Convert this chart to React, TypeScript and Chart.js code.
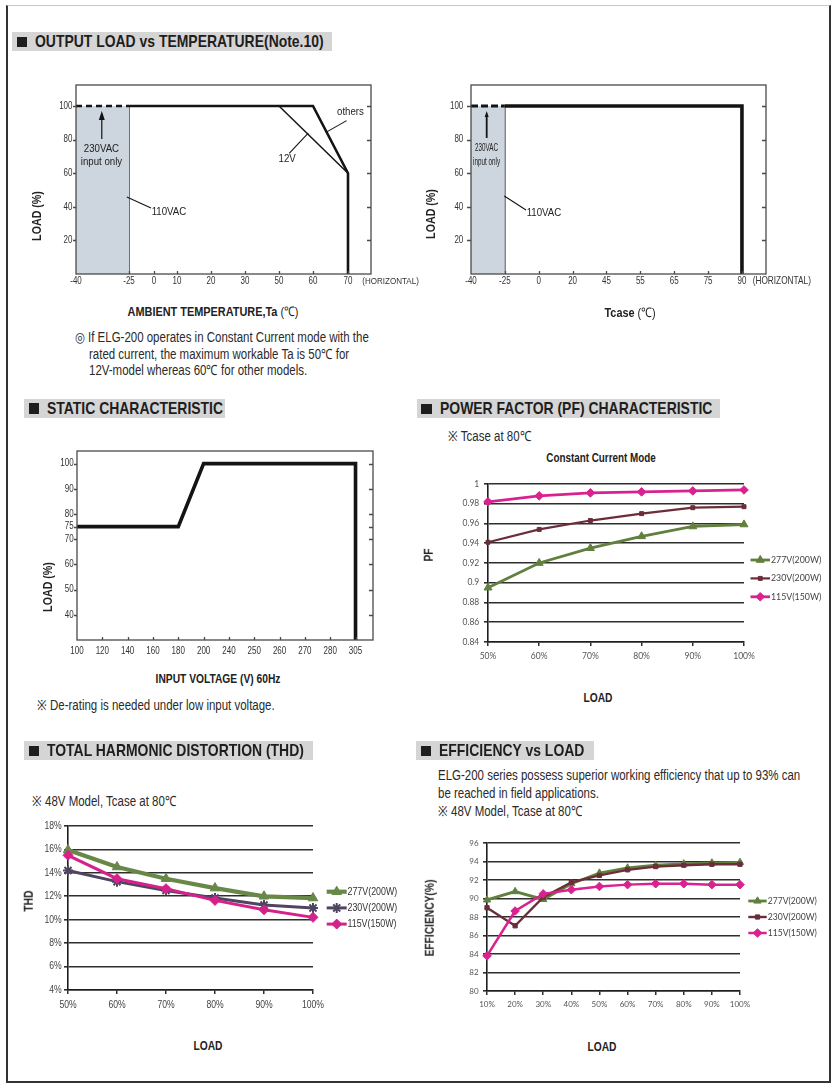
import React, { useEffect, useRef } from 'react';
import { Chart, registerables, LinearScale } from 'chart.js';
import { drawPoint } from 'chart.js/helpers';

Chart.register(...registerables);

const SANS = "'Liberation Sans', Arial, Helvetica, sans-serif";
const SX = 0.82; // horizontal condensing to imitate Helvetica Narrow
const XLS = "Lato, 'Open Sans', 'Liberation Sans', sans-serif";

/* ---------------- data: OUTPUT LOAD vs AMBIENT TEMPERATURE ---------------- */
const TA_TICKS = [-40, -25, 0, 10, 20, 30, 50, 60, 70];
const TA_AXIS_END = 76.6;
const LOAD_TICKS = [20, 40, 60, 80, 100];
const LOAD_MAX = 112.5;
const TA_230VAC_ONLY = [{ x: -40, y: 100 }, { x: -25, y: 100 }];
const TA_110VAC_EDGE = [{ x: -25, y: 0 }, { x: -25, y: 100 }];
const TA_OTHERS = [{ x: -25, y: 100 }, { x: 60, y: 100 }, { x: 70, y: 60 }, { x: 70, y: 0 }];
const TA_12V = [{ x: 50, y: 100 }, { x: 70, y: 60 }];
const TA_LABELS = [
  { text: '230VAC', x: -32.8, y: 74.8 },
  { text: 'input only', x: -32.8, y: 66.8 },
  { text: '110VAC', x: 6.5, y: 36.9 },
  { text: '12V', x: 52.4, y: 68.5 },
  { text: 'others', x: 70.7, y: 96.4 },
];
const TA_LEADERS = [
  [{ x: -25.6, y: 45.8 }, { x: -3, y: 39.3 }],
  [{ x: 53, y: 71.8 }, { x: 58.6, y: 83.8 }],
  [{ x: 69.6, y: 91.3 }, { x: 63.7, y: 84.3 }],
];
const TA_ARROW = [{ x: -32.7, y: 80.4 }, { x: -32.7, y: 97 }];

/* ---------------- data: OUTPUT LOAD vs Tcase ---------------- */
const TC_TICKS = [-40, -25, 0, 20, 45, 55, 65, 75, 90];
const TC_AXIS_END = 100;
const TC_230VAC_ONLY = [{ x: -40, y: 100 }, { x: -25, y: 100 }];
const TC_110VAC_EDGE = [{ x: -25, y: 0 }, { x: -25, y: 100 }];
const TC_LOAD = [{ x: -25, y: 100 }, { x: 90, y: 100 }, { x: 90, y: 0 }];
const TC_SMALL_LABELS = [
  { text: '230VAC', x: -33.1, y: 74.8 },
  { text: 'input only', x: -33.1, y: 66.8 },
];
const TC_LABELS = [{ text: '110VAC', x: 3.1, y: 36.7 }];
const TC_LEADERS = [[{ x: -25.25, y: 46.4 }, { x: -9.4, y: 38.1 }]];
const TC_ARROW = [{ x: -33.05, y: 81 }, { x: -33.05, y: 97 }];

/* ---------------- data: STATIC CHARACTERISTIC ---------------- */
const VIN_TICKS = [100, 120, 140, 160, 180, 200, 240, 250, 260, 270, 280, 305];
const VIN_AXIS_END = 320;
const STATIC_TICKS = [40, 50, 60, 70, 75, 80, 90, 100];
const STATIC_MIN = 30;
const STATIC_MAX = 105;
const STATIC_CURVE = [{ x: 100, y: 75 }, { x: 180, y: 75 }, { x: 200, y: 100 }, { x: 305, y: 100 }, { x: 305, y: 30 }];

/* ---------------- data: POWER FACTOR ---------------- */
const PF_LOADS = ['50%', '60%', '70%', '80%', '90%', '100%'];
const PF_277V = [0.895, 0.92, 0.935, 0.947, 0.957, 0.959];
const PF_230V = [0.941, 0.954, 0.963, 0.97, 0.976, 0.977];
const PF_115V = [0.982, 0.988, 0.991, 0.992, 0.993, 0.994];

/* ---------------- data: THD ---------------- */
const THD_LOADS = ['50%', '60%', '70%', '80%', '90%', '100%'];
const THD_277V = [15.95, 14.5, 13.5, 12.7, 12.0, 11.85];
const THD_230V = [14.2, 13.25, 12.5, 11.85, 11.25, 11.0];
const THD_115V = [15.5, 13.5, 12.65, 11.65, 10.85, 10.2];

/* ---------------- data: EFFICIENCY ---------------- */
const EFF_LOADS = ['10%', '20%', '30%', '40%', '50%', '60%', '70%', '80%', '90%', '100%'];
const EFF_277V = [89.85, 90.75, 89.9, 91.6, 92.75, 93.3, 93.6, 93.75, 93.85, 93.9];
const EFF_230V = [89.0, 87.05, 90.15, 91.75, 92.5, 93.1, 93.45, 93.6, 93.7, 93.7];
const EFF_115V = [83.8, 88.65, 90.5, 90.95, 91.3, 91.5, 91.6, 91.6, 91.5, 91.5];

const SERIES_NAMES = ['277V(200W)', '230V(200W)', '115V(150W)'];

/* ---------------- axis layout (relative tick spacing of the drawn axes) ---------------- */
const TA_SPANS = [53, 25, 23, 34, 34, 34, 34, 35, 23];
const TC_SPANS = [1, 1, 1, 1, 1, 1, 1, 1, 0.71];
const VIN_SPANS = [1, 1, 1, 1, 1, 1, 1, 1, 1, 1, 1, 0.69];

/* ---------------- styles ---------------- */
const INK = '#141414';
const SHADE = '#cdd5de';
const FRAME = '#4a4a4a';
const G_GREEN = '#61803e';
const G_MAROON = '#6b2d3a';
const G_PINK = '#d9228f';
const T_GREEN = '#688848';
const T_PURPLE = '#4f4560';
const T_PINK = '#d5218b';
const GRID = '#2e2e2e';

/* ---------------- piecewise scale for the hand-drawn derating axes ---------------- */
function makePiecewise(scaleId: string, stops: number[], weights: number[]) {
  const cum: number[] = [0];
  weights.forEach((w) => cum.push(cum[cum.length - 1] + w));
  const total = cum[cum.length - 1];
  class Piecewise extends LinearScale {
    static id = scaleId;
    getPixelForValue(value: number) {
      let i = 0;
      while (i < weights.length - 1 && value > stops[i + 1]) i++;
      const f = (cum[i] + ((value - stops[i]) / (stops[i + 1] - stops[i])) * weights[i]) / total;
      return this.getPixelForDecimal(f);
    }
    getValueForPixel(pixel: number) {
      const f = this.getDecimalForPixel(pixel) * total;
      let i = 0;
      while (i < weights.length - 1 && f > cum[i + 1]) i++;
      return stops[i] + ((f - cum[i]) / weights[i]) * (stops[i + 1] - stops[i]);
    }
  }
  return Piecewise;
}

Chart.register(
  makePiecewise('pwTa', [...TA_TICKS, TA_AXIS_END], TA_SPANS),
  makePiecewise('pwTc', [...TC_TICKS, TC_AXIS_END], TC_SPANS),
  makePiecewise('pwVin', [...VIN_TICKS, VIN_AXIS_END], VIN_SPANS)
);

type Rect = { x: number; y: number; w: number; h: number };
type Box = { x1: number; y1: number; x2: number; y2: number };

function layoutFor(rect: Rect, box: Box) {
  return {
    padding: { top: box.y1 - rect.y, right: rect.x + rect.w - box.x2, left: 0, bottom: 0 },
    yW: box.x1 - rect.x,
    xH: rect.y + rect.h - box.y2,
  };
}

function narrowText(ctx: any, text: string, x: number, y: number, align: string, sx: number) {
  ctx.save();
  ctx.translate(x, y);
  ctx.scale(sx, 1);
  ctx.textAlign = align;
  ctx.textBaseline = 'middle';
  ctx.fillText(text, 0, 0);
  ctx.restore();
}

/* ---------------- plugins ---------------- */
function framePlugin(o: any) {
  return {
    id: 'frame',
    afterDatasetsDraw(chart: any) {
      const { ctx, chartArea: a, scales } = chart;
      ctx.save();
      ctx.strokeStyle = FRAME;
      ctx.lineWidth = 1.3;
      ctx.strokeRect(a.left, a.top, a.right - a.left, a.bottom - a.top);
      ctx.beginPath();
      scales.y.ticks.forEach((t: any) => {
        const py = Math.round(scales.y.getPixelForValue(t.value)) + 0.5;
        ctx.moveTo(a.left - o.leftOut, py);
        ctx.lineTo(a.left, py);
        ctx.moveTo(a.right - o.rightIn, py);
        ctx.lineTo(a.right, py);
      });
      scales.x.ticks.forEach((t: any, i: number) => {
        if (i === 0) return;
        const px = Math.round(scales.x.getPixelForValue(t.value)) + 0.5;
        ctx.moveTo(px, a.bottom);
        ctx.lineTo(px, a.bottom - o.bottomIn);
      });
      ctx.stroke();
      ctx.restore();
    },
  };
}

// tick labels drawn in a condensed face, positioned through the chart's scales
function tickLabelPlugin(o: any) {
  return {
    id: 'tickLabels',
    afterDraw(chart: any) {
      const { ctx, chartArea: a, scales } = chart;
      ctx.save();
      ctx.fillStyle = o.color;
      ctx.font = o.font;
      scales.x.ticks.forEach((t: any, i: number) => {
        narrowText(ctx, o.xFmt(t.value, chart), scales.x.getPixelForTick(i), a.bottom + o.xDy, 'center', o.sx);
      });
      scales.y.ticks.forEach((t: any, i: number) => {
        narrowText(ctx, o.yFmt(t.value), a.left - o.yDx, scales.y.getPixelForTick(i), 'right', o.sx);
      });
      ctx.restore();
    },
  };
}

function notesPlugin(spec: any) {
  return {
    id: 'notes',
    afterDatasetsDraw(chart: any) {
      const { ctx, scales, chartArea: a } = chart;
      const X = (p: any) => scales.x.getPixelForValue(p.x);
      const Y = (p: any) => scales.y.getPixelForValue(p.y);
      ctx.save();
      ctx.strokeStyle = INK;
      ctx.fillStyle = INK;
      ctx.lineWidth = 1.1;
      spec.leaders.forEach(([p, q]: any) => {
        ctx.beginPath();
        ctx.moveTo(X(p), Y(p));
        ctx.lineTo(X(q), Y(q));
        ctx.stroke();
      });
      if (spec.arrow) {
        const [from, to] = spec.arrow;
        const x0 = X(from);
        const y0 = Y(from);
        const y1 = Y(to);
        ctx.lineWidth = spec.arrowWidth;
        ctx.beginPath();
        ctx.moveTo(x0, y0);
        ctx.lineTo(x0, y1 + spec.headLen * 0.7);
        ctx.stroke();
        ctx.beginPath();
        ctx.moveTo(x0, y1);
        ctx.lineTo(x0 - spec.headW / 2, y1 + spec.headLen);
        ctx.lineTo(x0 + spec.headW / 2, y1 + spec.headLen);
        ctx.closePath();
        ctx.fill();
      }
      ctx.fillStyle = '#222';
      spec.groups.forEach((g: any) => {
        ctx.font = g.font;
        g.labels.forEach((l: any) => narrowText(ctx, l.text, X(l), Y(l), 'center', g.sx));
      });
      if (spec.tail) {
        const t = spec.tail;
        ctx.font = t.font;
        ctx.fillStyle = '#333';
        narrowText(ctx, t.text, scales.x.getPixelForValue(t.at) + t.dx, a.bottom + t.dy, 'left', SX);
      }
      ctx.restore();
    },
  };
}

function legendPlugin(o: any) {
  return {
    id: 'sideLegend',
    afterDraw(chart: any) {
      const ctx = chart.ctx;
      chart.data.datasets.forEach((ds: any, i: number) => {
        const y = o.y + i * o.dy;
        ctx.save();
        ctx.strokeStyle = ds.borderColor;
        ctx.lineWidth = ds.borderWidth;
        ctx.beginPath();
        ctx.moveTo(o.x, y);
        ctx.lineTo(o.x + o.len, y);
        ctx.stroke();
        ctx.fillStyle = ds.pointBackgroundColor;
        ctx.strokeStyle = ds.pointBorderColor;
        ctx.lineWidth = ds.pointBorderWidth;
        drawPoint(ctx, { pointStyle: ds.pointStyle, radius: ds.pointRadius, borderWidth: ds.pointBorderWidth, rotation: 0 } as any, o.x + o.len / 2, y);
        ctx.fillStyle = o.color;
        ctx.font = o.font;
        narrowText(ctx, ds.label, o.x + o.len + o.gap, y, 'left', o.sx);
        ctx.restore();
      });
    },
  };
}

/* ---------------- chart builders ---------------- */
function buildDerate(canvas: HTMLCanvasElement, rect: Rect, box: Box, s: any) {
  const L = layoutFor(rect, box);
  return new Chart(canvas, {
    type: 'line',
    data: { datasets: s.datasets },
    options: {
      responsive: false,
      maintainAspectRatio: false,
      animation: false,
      layout: { padding: L.padding },
      elements: { point: { radius: 0 }, line: { tension: 0 } },
      plugins: { legend: { display: false }, tooltip: { enabled: false } },
      scales: {
        x: {
          type: s.xType,
          min: s.xTicks[0],
          max: s.xEnd,
          afterBuildTicks: (sc: any) => {
            sc.ticks = s.xTicks.map((v: number) => ({ value: v }));
          },
          afterFit: (sc: any) => {
            sc.height = L.xH;
          },
          grid: { display: false },
          border: { display: false },
          ticks: { display: false },
        },
        y: {
          type: 'linear',
          min: s.yMin,
          max: s.yMax,
          afterBuildTicks: (sc: any) => {
            sc.ticks = s.yTicks.map((v: number) => ({ value: v }));
          },
          afterFit: (sc: any) => {
            sc.width = L.yW;
          },
          grid: { display: false },
          border: { display: false },
          ticks: { display: false },
        },
      },
    } as any,
    plugins: [
      framePlugin(s.frame),
      tickLabelPlugin({
        font: `10px ${SANS}`,
        sx: 0.8,
        color: '#333',
        xDy: s.xDy,
        yDx: s.yDx,
        xFmt: (v: number) => String(v),
        yFmt: (v: number) => String(v),
      }),
      ...(s.notes ? [notesPlugin(s.notes)] : []),
    ],
  });
}

function series(label: string, data: number[], color: string, style: string, radius: number, width: number, order: number, pbw = 1) {
  return {
    label,
    data,
    borderColor: color,
    backgroundColor: color,
    borderWidth: width,
    pointStyle: style,
    pointRadius: radius,
    pointBackgroundColor: color,
    pointBorderColor: color,
    pointBorderWidth: pbw,
    tension: 0,
    clip: false,
    order,
  };
}

function buildXls(canvas: HTMLCanvasElement, rect: Rect, box: Box, s: any) {
  const L = layoutFor(rect, box);
  const plugins: any[] = [legendPlugin(s.legend)];
  if (s.narrowTicks) plugins.push(tickLabelPlugin(s.narrowTicks));
  return new Chart(canvas, {
    type: 'line',
    data: { labels: s.labels, datasets: s.datasets },
    options: {
      responsive: false,
      maintainAspectRatio: false,
      animation: false,
      layout: { padding: L.padding },
      plugins: { legend: { display: false }, tooltip: { enabled: false } },
      scales: {
        x: {
          type: 'category',
          offset: false,
          afterFit: (sc: any) => {
            sc.height = L.xH;
          },
          grid: { display: true, drawOnChartArea: false, drawTicks: true, tickLength: 4, color: GRID, lineWidth: 1.5 },
          border: { display: true, color: '#1e1e1e', width: 1.6 },
          ticks: { display: !s.narrowTicks, autoSkip: false, maxRotation: 0, padding: s.xPad, font: s.tickFont, color: s.tickColor },
        },
        y: {
          type: 'linear',
          min: s.yMin,
          max: s.yMax,
          afterFit: (sc: any) => {
            sc.width = L.yW;
          },
          grid: { color: GRID, lineWidth: 1.6, tickLength: 4, drawTicks: true },
          border: { display: true, color: '#1e1e1e', width: 1.6 },
          ticks: { display: !s.narrowTicks, stepSize: s.step, padding: s.yPad, font: s.tickFont, color: s.tickColor, callback: s.yFmt },
        },
      },
    } as any,
    plugins,
  });
}

/* ---------------- React helpers ---------------- */
function ChartCanvas({ rect, build }: { rect: Rect; build: (c: HTMLCanvasElement) => Chart }) {
  const ref = useRef<HTMLCanvasElement>(null);
  useEffect(() => {
    const chart = build(ref.current!);
    return () => chart.destroy();
  }, []);
  return (
    <canvas
      ref={ref}
      width={rect.w}
      height={rect.h}
      style={{ position: 'absolute', left: rect.x, top: rect.y, width: rect.w, height: rect.h }}
    />
  );
}

function Txt({ x, y, children, size = 13, bold = false, align = 'left', rotate = false, color = '#222', sx = SX }: any) {
  const transform = rotate
    ? 'translate(-50%,-50%) rotate(-90deg)'
    : align === 'center'
    ? 'translate(-50%,-50%)'
    : 'translateY(-50%)';
  return (
    <div
      style={{
        position: 'absolute',
        left: x,
        top: y,
        transform,
        fontFamily: SANS,
        fontSize: size,
        fontWeight: bold ? 700 : 400,
        color,
        whiteSpace: 'nowrap',
        lineHeight: 1,
      }}
    >
      <span
        style={{
          display: 'inline-block',
          transform: `scaleX(${sx})`,
          transformOrigin: align === 'left' && !rotate ? 'left center' : 'center center',
        }}
      >
        {children}
      </span>
    </div>
  );
}

function Header({ x, y, w, text }: any) {
  return (
    <div style={{ position: 'absolute', left: x, top: y, width: w, height: 19, background: '#d5d5d5' }}>
      <div style={{ position: 'absolute', left: 4.5, top: 4.5, width: 10.5, height: 10.5, background: '#1e1e1e' }} />
      <div
        style={{
          position: 'absolute',
          left: 23,
          top: 0,
          height: 19,
          lineHeight: '19px',
          fontFamily: SANS,
          fontWeight: 700,
          fontSize: 17,
          color: '#1e1e1e',
          whiteSpace: 'nowrap',
          transform: `scaleX(${SX})`,
          transformOrigin: 'left center',
        }}
      >
        {text}
      </div>
    </div>
  );
}

/* ---------------- layout rects ---------------- */
const R_TA: Rect = { x: 20, y: 70, w: 405, h: 226 };
const B_TA: Box = { x1: 76, y1: 85, x2: 371, y2: 274 };
const R_TC: Rect = { x: 420, y: 70, w: 410, h: 226 };
const B_TC: Box = { x1: 471, y1: 85, x2: 766, y2: 274 };
const R_ST: Rect = { x: 20, y: 440, w: 395, h: 222 };
const B_ST: Box = { x1: 77, y1: 451, x2: 373, y2: 640 };
const R_PF: Rect = { x: 430, y: 470, w: 400, h: 200 };
const B_PF: Box = { x1: 488, y1: 484, x2: 744, y2: 642 };
const R_THD: Rect = { x: 10, y: 812, w: 400, h: 210 };
const B_THD: Box = { x1: 68, y1: 826, x2: 313, y2: 990 };
const R_EFF: Rect = { x: 430, y: 830, w: 400, h: 195 };
const B_EFF: Box = { x1: 487, y1: 843, x2: 740, y2: 991 };

const LABEL_FONT = `11.8px ${SANS}`;
const NOTE = 14;

export default function App() {
  const buildTa = (c: HTMLCanvasElement) =>
    buildDerate(c, R_TA, B_TA, {
      xType: 'pwTa',
      xTicks: TA_TICKS,
      xEnd: TA_AXIS_END,
      yMin: 0,
      yMax: LOAD_MAX,
      yTicks: LOAD_TICKS,
      xDy: 7,
      yDx: 3.5,
      frame: { leftOut: 3, rightIn: 4, bottomIn: 3 },
      datasets: [
        { data: TA_230VAC_ONLY, borderColor: INK, borderWidth: 2.5, borderDash: [6, 4], fill: 'origin', backgroundColor: SHADE },
        { data: TA_110VAC_EDGE, borderColor: INK, borderWidth: 1.2 },
        { data: TA_OTHERS, borderColor: INK, borderWidth: 2.6 },
        { data: TA_12V, borderColor: INK, borderWidth: 1.5 },
      ],
      notes: {
        leaders: TA_LEADERS,
        arrow: TA_ARROW,
        arrowWidth: 1.2,
        headW: 6,
        headLen: 9,
        groups: [{ font: LABEL_FONT, sx: SX, labels: TA_LABELS }],
        tail: { text: '(HORIZONTAL)', at: TA_TICKS[TA_TICKS.length - 1], dx: 14.3, dy: 7, font: `9.8px ${SANS}` },
      },
    });

  const buildTc = (c: HTMLCanvasElement) =>
    buildDerate(c, R_TC, B_TC, {
      xType: 'pwTc',
      xTicks: TC_TICKS,
      xEnd: TC_AXIS_END,
      yMin: 0,
      yMax: LOAD_MAX,
      yTicks: LOAD_TICKS,
      xDy: 7.3,
      yDx: 7.7,
      frame: { leftOut: 4, rightIn: 4, bottomIn: 3 },
      datasets: [
        { data: TC_230VAC_ONLY, borderColor: INK, borderWidth: 3, borderDash: [7, 3], fill: 'origin', backgroundColor: SHADE },
        { data: TC_110VAC_EDGE, borderColor: INK, borderWidth: 1.3 },
        { data: TC_LOAD, borderColor: INK, borderWidth: 3.6 },
      ],
      notes: {
        leaders: TC_LEADERS,
        arrow: TC_ARROW,
        arrowWidth: 1.8,
        headW: 4,
        headLen: 6,
        groups: [
          { font: `10.5px ${SANS}`, sx: 0.6, labels: TC_SMALL_LABELS },
          { font: LABEL_FONT, sx: SX, labels: TC_LABELS },
        ],
        tail: { text: '(HORIZONTAL)', at: TC_TICKS[TC_TICKS.length - 1], dx: 10.7, dy: 7.3, font: `10.1px ${SANS}` },
      },
    });

  const buildSt = (c: HTMLCanvasElement) =>
    buildDerate(c, R_ST, B_ST, {
      xType: 'pwVin',
      xTicks: VIN_TICKS,
      xEnd: VIN_AXIS_END,
      yMin: STATIC_MIN,
      yMax: STATIC_MAX,
      yTicks: STATIC_TICKS,
      xDy: 11.7,
      yDx: 3.3,
      frame: { leftOut: 3, rightIn: 4, bottomIn: 3 },
      datasets: [{ data: STATIC_CURVE, borderColor: INK, borderWidth: 3.6 }],
    });

  const buildPf = (c: HTMLCanvasElement) =>
    buildXls(c, R_PF, B_PF, {
      labels: PF_LOADS,
      datasets: [
        series(SERIES_NAMES[0], PF_277V, G_GREEN, 'triangle', 4.6, 2.8, 2),
        series(SERIES_NAMES[1], PF_230V, G_MAROON, 'rect', 2.8, 2.2, 1),
        series(SERIES_NAMES[2], PF_115V, G_PINK, 'rectRot', 4.3, 2.8, 0),
      ],
      yMin: 0.84,
      yMax: 1,
      step: 0.02,
      yFmt: (v: number) => String(Math.round(v * 100) / 100),
      xPad: 5.6,
      yPad: 4.7,
      tickFont: { family: XLS, size: 8.5 },
      tickColor: '#555',
      legend: { x: 750.5 - R_PF.x, y: 560 - R_PF.y, dy: 18.4, len: 19.5, gap: 1, font: `8.8px ${XLS}`, color: '#444', sx: 1 },
    });

  const buildThd = (c: HTMLCanvasElement) =>
    buildXls(c, R_THD, B_THD, {
      labels: THD_LOADS,
      datasets: [
        series(SERIES_NAMES[0], THD_277V, T_GREEN, 'triangle', 5.5, 4.2, 2),
        series(SERIES_NAMES[1], THD_230V, T_PURPLE, 'star', 5, 3, 1, 2),
        series(SERIES_NAMES[2], THD_115V, T_PINK, 'rectRot', 5, 3, 0),
      ],
      yMin: 4,
      yMax: 18,
      step: 2,
      yFmt: (v: number) => `${v}%`,
      narrowTicks: {
        font: `10.5px ${SANS}`,
        sx: SX,
        color: '#444',
        xDy: 15,
        yDx: 6.3,
        xFmt: (v: number, chart: any) => chart.data.labels[v],
        yFmt: (v: number) => `${v}%`,
      },
      legend: { x: 326.7 - R_THD.x, y: 891.7 - R_THD.y, dy: 16.2, len: 20, gap: 0.8, font: `10.8px ${SANS}`, color: '#333', sx: SX },
    });

  const buildEff = (c: HTMLCanvasElement) =>
    buildXls(c, R_EFF, B_EFF, {
      labels: EFF_LOADS,
      datasets: [
        series(SERIES_NAMES[0], EFF_277V, G_GREEN, 'triangle', 4.2, 2.8, 2),
        series(SERIES_NAMES[1], EFF_230V, G_MAROON, 'rect', 3, 2.4, 1),
        series(SERIES_NAMES[2], EFF_115V, G_PINK, 'rectRot', 4.3, 2.5, 0),
      ],
      yMin: 80,
      yMax: 96,
      step: 2,
      yFmt: (v: number) => String(v),
      xPad: 4.2,
      yPad: 4.4,
      tickFont: { family: XLS, size: 8 },
      tickColor: '#555',
      legend: { x: 748.3 - R_EFF.x, y: 901 - R_EFF.y, dy: 16, len: 18.4, gap: 1, font: `8.6px ${XLS}`, color: '#444', sx: 1 },
    });

  return (
    <div style={{ position: 'absolute', left: 0, top: 0, width: 839, height: 1089, background: '#fff', overflow: 'hidden' }}>
      <div
        style={{
          position: 'absolute',
          left: 6,
          top: 5,
          width: 825,
          height: 1078,
          boxSizing: 'border-box',
          borderLeft: '2px solid #333',
          borderRight: '2px solid #333',
          borderBottom: '2px solid #333',
          borderTop: '1px solid #c8c8c8',
        }}
      />

      {/* OUTPUT LOAD vs TEMPERATURE */}
      <Header x={12} y={32} w={320} text="OUTPUT LOAD vs TEMPERATURE(Note.10)" />
      <ChartCanvas rect={R_TA} build={buildTa} />
      <ChartCanvas rect={R_TC} build={buildTc} />
      <Txt x={36} y={216} rotate bold size={13}>LOAD (%)</Txt>
      <Txt x={430} y={214} rotate bold size={13}>LOAD (%)</Txt>
      <Txt x={213} y={312} align="center" bold size={13.3}>
        AMBIENT TEMPERATURE,Ta <span style={{ fontWeight: 400 }}>(℃)</span>
      </Txt>
      <Txt x={630} y={312.7} align="center" bold size={13.3}>
        Tcase <span style={{ fontWeight: 400 }}>(℃)</span>
      </Txt>
      <Txt x={75} y={337} size={NOTE} color="#2a2a2a">◎ If ELG-200 operates in Constant Current mode with the</Txt>
      <Txt x={89} y={353.5} size={NOTE} color="#2a2a2a">rated current, the maximum workable Ta is 50℃ for</Txt>
      <Txt x={89} y={370} size={NOTE} color="#2a2a2a">12V-model whereas 60℃ for other models.</Txt>

      {/* STATIC CHARACTERISTIC */}
      <Header x={24} y={398.5} w={201} text="STATIC CHARACTERISTIC" />
      <ChartCanvas rect={R_ST} build={buildSt} />
      <Txt x={46.7} y={586.7} rotate bold size={13}>LOAD (%)</Txt>
      <Txt x={218.3} y={679.3} align="center" bold size={12.5}>INPUT VOLTAGE (V) 60Hz</Txt>
      <Txt x={37} y={705} size={NOTE} color="#2a2a2a">※ De-rating is needed under low input voltage.</Txt>

      {/* POWER FACTOR */}
      <Header x={416.5} y={399} w={303.5} text="POWER FACTOR (PF) CHARACTERISTIC" />
      <Txt x={448} y={435.5} size={NOTE} color="#2a2a2a">※ Tcase at 80℃</Txt>
      <Txt x={601} y={457.7} align="center" bold size={12}>Constant Current Mode</Txt>
      <ChartCanvas rect={R_PF} build={buildPf} />
      <Txt x={428.7} y={554.6} rotate bold size={12.5}>PF</Txt>
      <Txt x={598} y={698} align="center" bold size={12.5}>LOAD</Txt>

      {/* THD */}
      <Header x={24} y={741} w={289} text="TOTAL HARMONIC DISTORTION (THD)" />
      <Txt x={32} y={800.7} size={NOTE} color="#2a2a2a">※ 48V Model, Tcase at 80℃</Txt>
      <ChartCanvas rect={R_THD} build={buildThd} />
      <Txt x={29} y={900.5} rotate bold size={12.5}>THD</Txt>
      <Txt x={208} y={1045.7} align="center" bold size={12.5}>LOAD</Txt>

      {/* EFFICIENCY */}
      <Header x={416} y={741} w={178} text="EFFICIENCY vs LOAD" />
      <Txt x={438} y={775} size={NOTE} color="#2a2a2a">ELG-200 series possess superior working efficiency that up to 93% can</Txt>
      <Txt x={438} y={793} size={NOTE} color="#2a2a2a">be reached in field applications.</Txt>
      <Txt x={438} y={810.5} size={NOTE} color="#2a2a2a">※ 48V Model, Tcase at 80℃</Txt>
      <ChartCanvas rect={R_EFF} build={buildEff} />
      <Txt x={430} y={917.7} rotate bold size={12.5}>EFFICIENCY(%)</Txt>
      <Txt x={601.7} y={1047} align="center" bold size={12.5}>LOAD</Txt>
    </div>
  );
}
